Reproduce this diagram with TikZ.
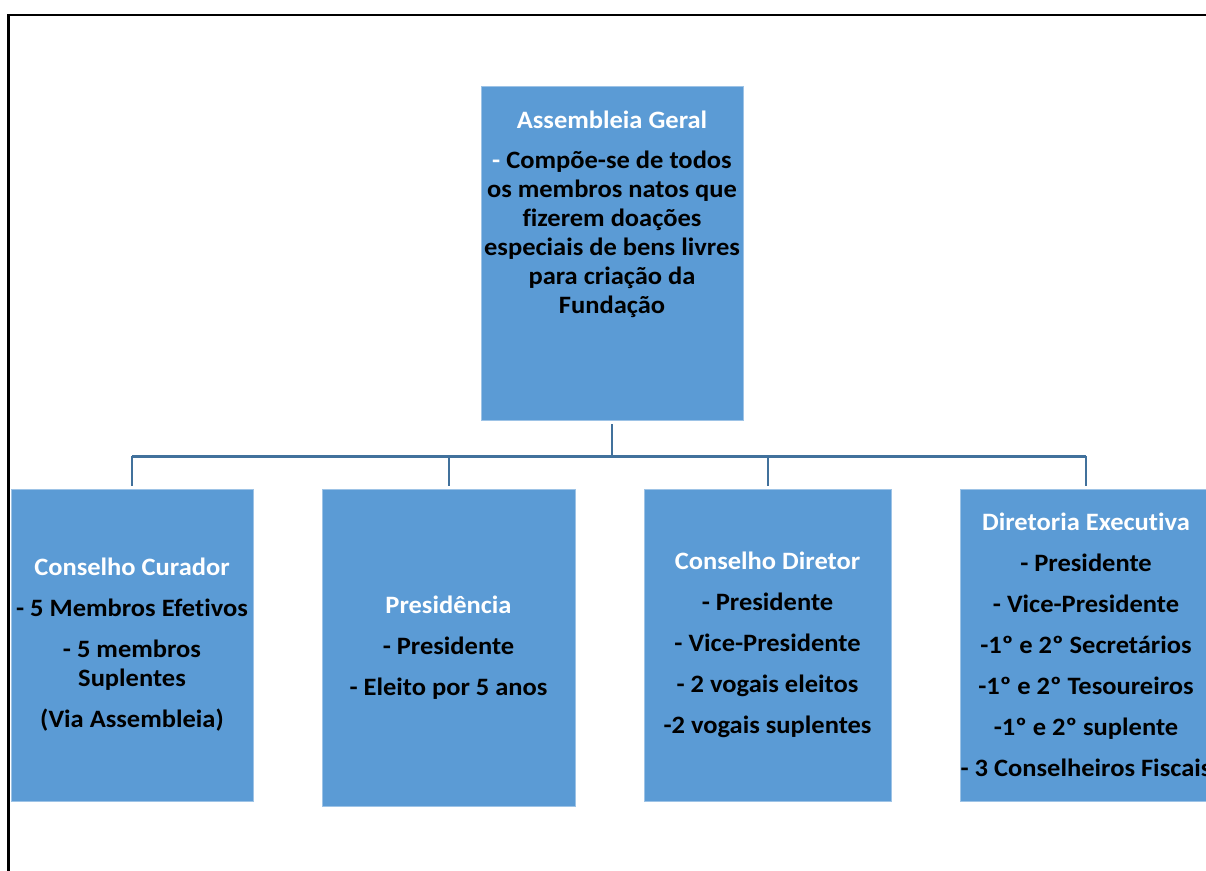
\documentclass[tikz,border=0pt]{standalone}
\usepackage{fontspec}
\setmainfont{Carlito}[FakeStretch=1.06, Ligatures={NoCommon}]
\definecolor{boxfill}{HTML}{5B9BD5}
\definecolor{boxedge}{HTML}{9DC3E6}
\definecolor{linec}{HTML}{41719C}
\begin{document}
\begin{tikzpicture}[x=1pt,y=-1pt,
  box/.style={draw=boxedge, line width=0.8pt, fill=boxfill, inner sep=0pt, align=center,
    font=\fontsize{25}{29}\selectfont\bfseries},
  txt/.style={inner sep=0pt, align=center, font=\fontsize{25}{29}\selectfont\bfseries},
  conn/.style={draw=linec, line width=2pt},
  hbus/.style={draw=linec, line width=3pt},
  frame/.style={draw=black, line width=2.2pt}
]
\useasboundingbox (0,0) rectangle (1206,870);
\draw[frame] (8.5,872) -- (8.5,15) -- (1208,15);

% top box
\node[box, minimum width=262pt, minimum height=334pt] (ag) at (612,253) {};
\node[txt, anchor=north] (agt) at (612,111)
  {\textcolor{white}{Assembleia Geral}\\[11pt]
   \textcolor{white}{-} Compõe-se de todos\\ os membros natos que\\ fizerem doações\\ especiais de bens livres\\ para criação da\\ Fundação};

% lower boxes
\node[box, minimum width=242pt, minimum height=312pt] (cc) at (132,645)
  {\textcolor{white}{Conselho Curador}\\[12pt]
   - 5 Membros Efetivos\\[12pt]
   - 5 membros\\ Suplentes\\[12pt]
   (Via Assembleia)};
\node[box, minimum width=253pt, minimum height=317pt] (pr) at (448.5,647.5)
  {\textcolor{white}{Presidência}\\[12pt]
   - Presidente\\[12pt]
   - Eleito por 5 anos};
\node[box, minimum width=247pt, minimum height=312pt] (cd) at (767.5,645)
  {\textcolor{white}{Conselho Diretor}\\[12pt]
   - Presidente\\[12pt]
   - Vice-Presidente\\[12pt]
   - 2 vogais eleitos\\[12pt]
   -2 vogais suplentes};
\node[box, minimum width=252pt, minimum height=312pt] (de) at (1086,645)
  {\textcolor{white}{Diretoria Executiva}\\[12pt]
   - Presidente\\[12pt]
   - Vice-Presidente\\[12pt]
   -1º e 2º Secretários\\[12pt]
   -1º e 2º Tesoureiros\\[12pt]
   -1º e 2º suplente\\[12pt]
   - 3 Conselheiros Fiscais};

% connectors
\coordinate (bus) at (612,456);
\draw[conn, shorten <=4pt] (ag.south) -- (ag.south |- bus);
\draw[hbus] (cc.north |- bus) -- (de.north |- bus);
\foreach \n in {cc,pr,cd,de}
  \draw[conn, shorten >=3pt] (\n.north |- bus) -- (\n.north);
\end{tikzpicture}
\end{document}
